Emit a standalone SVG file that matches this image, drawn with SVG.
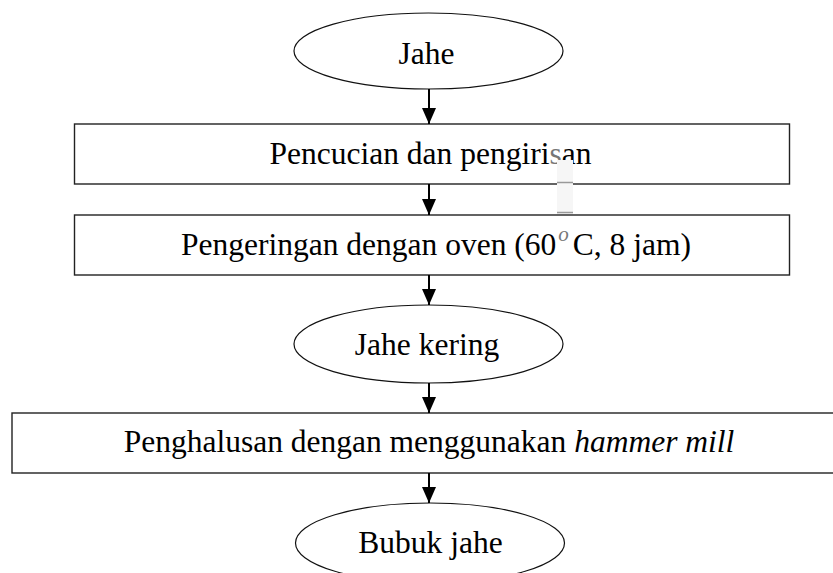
<svg xmlns="http://www.w3.org/2000/svg" width="833" height="573" viewBox="0 0 833 573">
<style>
.box{fill:#fff;stroke:#222;stroke-width:1.4}
.ell{fill:#fff;stroke:#111;stroke-width:1.2}
.lbl{font-family:"Liberation Serif","Times New Roman",serif;font-size:31.5px;fill:#000;text-anchor:middle}
.conn{stroke:#000;stroke-width:2;fill:none}
</style>
<defs>
<marker id="ah" markerUnits="userSpaceOnUse" markerWidth="16" markerHeight="16" viewBox="0 0 16 16" refX="16" refY="8" orient="auto">
<path d="M0,1 L16,8 L0,15 Z" fill="#000"/>
</marker>
</defs>
<rect width="833" height="573" fill="#fff"/>
<g id="n1"><ellipse class="ell" cx="428.5" cy="51" rx="134.5" ry="38"/><text class="lbl" x="426.5" y="64">Jahe</text></g>
<g id="n2"><rect class="box" x="74.5" y="124" width="715" height="60"/><text class="lbl" x="430.5" y="164">Pencucian dan pengiri<tspan fill="#777">s</tspan>an</text></g>
<g id="artifact">
<rect x="557" y="160" width="16" height="90" fill="#f6f6f6"/>
<line x1="557" y1="182.5" x2="573" y2="182.5" stroke="#999" stroke-width="1.5"/>
<line x1="557" y1="212.5" x2="573" y2="212.5" stroke="#999" stroke-width="1.5"/>
</g>
<g id="n3"><rect class="box" x="74.5" y="215" width="715" height="60"/><text class="lbl" x="181" y="255" style="text-anchor:start">Pengeringan dengan oven (60<tspan fill="#777" font-size="21" font-style="italic" dx="2" dy="-14">o</tspan><tspan dx="4" dy="14">C, 8 jam)</tspan></text></g>
<g id="n4"><ellipse class="ell" cx="428.5" cy="344" rx="134.5" ry="39"/><text class="lbl" x="427" y="355">Jahe kering</text></g>
<g id="n5"><rect class="box" x="12" y="413" width="840" height="60"/><text class="lbl" x="429" y="452">Penghalusan dengan menggunakan <tspan font-style="italic">hammer mill</tspan></text></g>
<g id="n6"><ellipse class="ell" cx="430" cy="543" rx="134.5" ry="40"/><text class="lbl" x="430.5" y="553">Bubuk jahe</text></g>
<g id="connectors">
<line class="conn" x1="429" y1="89" x2="429" y2="124" marker-end="url(#ah)"/>
<line class="conn" x1="429" y1="184" x2="429" y2="215" marker-end="url(#ah)"/>
<line class="conn" x1="429" y1="275" x2="429" y2="305" marker-end="url(#ah)"/>
<line class="conn" x1="429" y1="383" x2="429" y2="413" marker-end="url(#ah)"/>
<line class="conn" x1="429" y1="473" x2="429" y2="503" marker-end="url(#ah)"/>
</g>
</svg>
